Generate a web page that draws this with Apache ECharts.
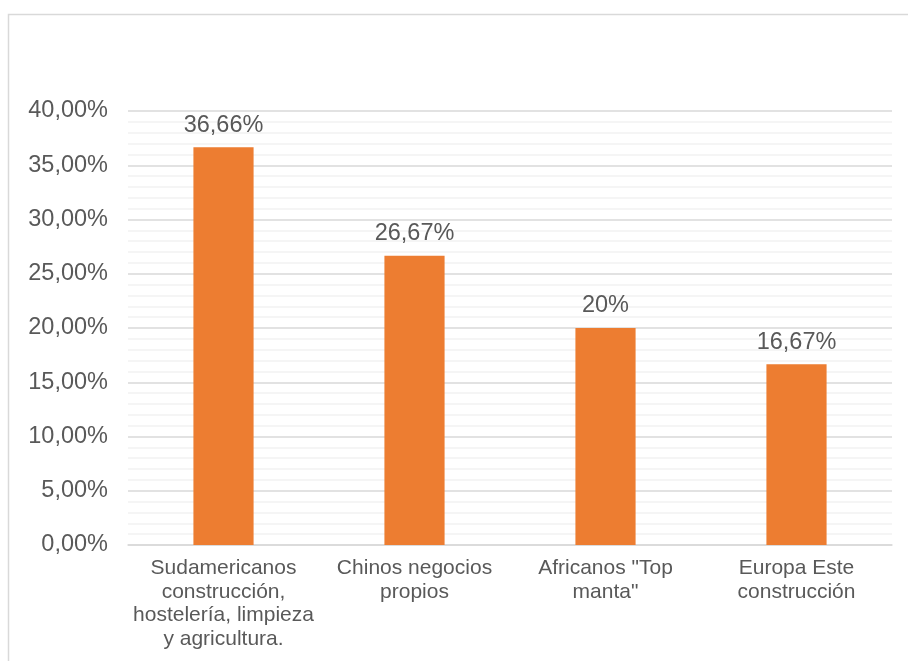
<!DOCTYPE html>
<html><head><meta charset="utf-8">
<script src="https://cdn.jsdelivr.net/npm/echarts@6/dist/echarts.min.js"></script>
<style>html,body{margin:0;padding:0;background:#fff}#c{width:908px;height:661px}</style>
</head><body><div id="c"></div>
<script>
const categories = ["Sudamericanos\nconstrucción,\nhostelería, limpieza\ny agricultura.", "Chinos negocios\npropios", "Africanos \"Top\nmanta\"", "Europa Este\nconstrucción"];
const values = [36.66, 26.67, 20, 16.67];
const yMin = 0, yMax = 40, yStep = 5;

function fmtPct(v, fixed) {
  let s = v.toFixed(2);
  if (!fixed && s.endsWith('.00')) s = s.slice(0, -3);
  return s.replace('.', ',') + '%';
}

const FONT = 'Liberation Sans, Arial, sans-serif';
const chart = echarts.init(document.getElementById('c'), null, {renderer: 'canvas'});
chart.setOption({
  backgroundColor: '#fff',
  animation: false,
  graphic: [{type: 'rect', shape: {x: 8.5, y: 14.5, width: 940, height: 700}, style: {fill: null, stroke: '#d9d9d9', lineWidth: 1.5}, silent: true}],
  grid: {left: 128, right: 16, top: 111, bottom: 116, containLabel: false},
  xAxis: {
    type: 'category', data: categories,
    axisLine: {show: true, lineStyle: {color: '#d9d9d9', width: 1.5}},
    axisTick: {show: false},
    axisLabel: {color: '#595959', fontSize: 21, fontFamily: FONT, lineHeight: 23.5, margin: 11.5, interval: 0}
  },
  yAxis: {
    type: 'value', min: yMin, max: yMax, interval: yStep,
    axisLine: {show: false}, axisTick: {show: false},
    axisLabel: {color: '#595959', fontSize: 23.5, fontFamily: FONT, margin: 20, padding: [4, 0, 0, 0], formatter: v => fmtPct(v, true)},
    splitLine: {show: true, lineStyle: {color: '#d9d9d9', width: 1.5}},
    minorTick: {show: false, splitNumber: 5},
    minorSplitLine: {show: true, lineStyle: {color: '#f2f2f2', width: 1.5}}
  },
  series: [{
    type: 'bar', data: values, barWidth: '31.5%',
    itemStyle: {color: '#ED7D31'},
    label: {show: true, position: 'top', distance: 10, color: '#595959', fontSize: 23.5, fontFamily: FONT, formatter: p => fmtPct(p.value, false)}
  }]
});
</script></body></html>
